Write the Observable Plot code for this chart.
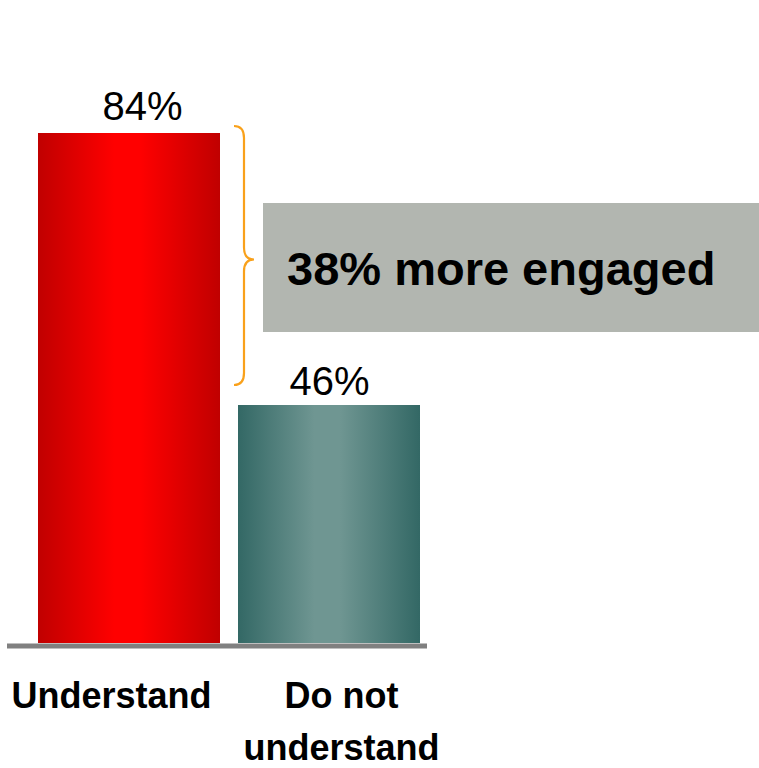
<!DOCTYPE html>
<html>
<head>
<meta charset="utf-8">
<script src="https://cdn.jsdelivr.net/npm/d3@7"></script>
<script src="https://cdn.jsdelivr.net/npm/@observablehq/plot@0.6"></script>
<style>
  html, body { margin: 0; padding: 0; background: #ffffff; }
  #chart svg { display: block; overflow: visible; }
</style>
</head>
<body>
<div id="chart"></div>
<script>
// ---- data ----
const categories = ["Understand", "Do not understand"];
const values = [84, 46];
const valueLabels = ["84%", "46%"];
const axisLabels = ["Understand", "Do not\nunderstand"];
const gradientIds = ["grad-red", "grad-teal"];
const calloutText = "38% more engaged";

const yBase = 12.75; // where the drawn baseline sits on the value axis

const rows = categories.map((c, i) => ({
  category: c, value: values[i], label: valueLabels[i],
  axisLabel: axisLabels[i], fill: `url(#${gradientIds[i]})`
}));

const FONT = "Arial, 'Liberation Sans', Helvetica, sans-serif";

function annotations(index, scales, vals, dims) {
  const x = scales.x, y = scales.y;
  const g = d3.create("svg:g");
  const defs = g.append("defs");
  const grads = [
    {id: gradientIds[0], edge: "#c00000", mid: "#ff0000"},
    {id: gradientIds[1], edge: "#336865", mid: "#6f9692"}
  ];
  for (const gr of grads) {
    const lg = defs.append("linearGradient").attr("id", gr.id)
      .attr("x1", "0").attr("x2", "1").attr("y1", "0").attr("y2", "0");
    lg.append("stop").attr("offset", "0%").attr("stop-color", gr.edge);
    lg.append("stop").attr("offset", "42%").attr("stop-color", gr.mid);
    lg.append("stop").attr("offset", "56%").attr("stop-color", gr.mid);
    lg.append("stop").attr("offset", "100%").attr("stop-color", gr.edge);
  }
  // curly bracket spanning the gap between the two values
  const xs = x(categories[1]);
  const x0 = xs - 4, xv = xs + 6, xt = xs + 16;
  const top = y(values[0]) - 7, bottom = y(values[1]) - 20;
  const tip = (top + bottom) / 2 + 4;
  const r = 12;
  g.append("path")
    .attr("d", `M${x0},${top} Q${xv},${top} ${xv},${top + r} L${xv},${tip - r} Q${xv},${tip} ${xt},${tip} Q${xv},${tip} ${xv},${tip + r} L${xv},${bottom - r} Q${xv},${bottom} ${x0},${bottom}`)
    .attr("fill", "none").attr("stroke", "#f9a11b").attr("stroke-width", 2.2);
  // callout box
  const bx = xs + 25, bw = dims.width - bx;
  const bmid = (y(values[0]) + y(values[1])) / 2 - 1.5;
  const bh = 129;
  g.append("rect").attr("x", bx).attr("y", bmid - bh / 2)
    .attr("width", bw).attr("height", bh).attr("fill", "#b2b6b0");
  g.append("text").attr("x", bx + 24).attr("y", bmid + 17.5)
    .attr("text-anchor", "start")
    .attr("font-family", FONT).attr("font-weight", "bold").attr("font-size", 47)
    .attr("fill", "#000").text(calloutText);
  return g.node();
}

const chart = Plot.plot({
  width: 759,
  height: 768,
  marginLeft: 7,
  marginRight: 332,
  marginTop: 0,
  marginBottom: 0,
  style: {fontFamily: FONT, background: "#ffffff", overflow: "visible"},
  x: {domain: categories, range: [38, 420], paddingInner: 0.09, paddingOuter: 0, axis: null},
  y: {domain: [yBase, 84], range: [643, 133], clamp: true, axis: null},
  color: {type: "identity"},
  marks: [
    annotations,
    Plot.barY(rows, {x: "category", y: "value", fill: "fill"}),
    Plot.ruleY([yBase], {stroke: "#808080", strokeWidth: 5, dy: 2.5}),
    Plot.text(rows.filter((d, i) => i === 0), {x: "category", y: "value", text: "label",
      lineAnchor: "bottom", dy: -14, dx: 13, fontSize: 40, fill: "#000"}),
    Plot.text(rows.filter((d, i) => i === 1), {x: "category", y: "value", text: "label",
      lineAnchor: "bottom", dy: -11, dx: 0, fontSize: 40, fill: "#000"}),
    Plot.text(rows.filter((d, i) => i === 0), {x: "category", y: () => yBase, text: "axisLabel",
      lineAnchor: "top", dy: 27, dx: -18, fontSize: 36, fontWeight: "bold", lineHeight: 1.45, fill: "#000"}),
    Plot.text(rows.filter((d, i) => i === 1), {x: "category", y: () => yBase, text: "axisLabel",
      lineAnchor: "top", dy: 27, dx: 12, fontSize: 36, fontWeight: "bold", lineHeight: 1.45, fill: "#000"})
  ]
});

document.getElementById("chart").appendChild(chart);
</script>
</body>
</html>
